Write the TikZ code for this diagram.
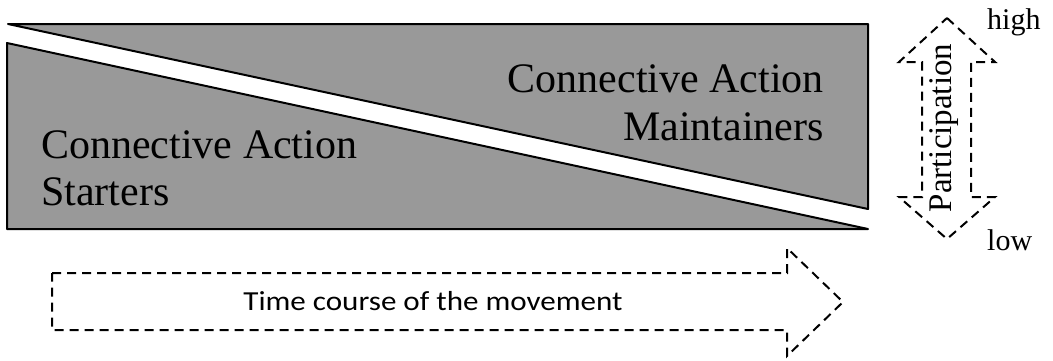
\documentclass[tikz,border=0pt]{standalone}
\usepackage{fontspec}
\setmainfont{Liberation Serif}
\newfontfamily\carlito{Carlito}
\definecolor{bandgray}{RGB}{153,153,153}
\begin{document}
\begin{tikzpicture}[x=1pt,y=-1pt,
  wedge/.style={fill=bandgray,draw=black,line width=2pt,line join=round},
  dasharrow/.style={draw=black,line width=2pt,dash pattern=on 9pt off 6pt,line join=miter},
  bigtext/.style={font=\fontsize{42}{47}\selectfont,inner sep=0pt},
  midtext/.style={font=\fontsize{33}{38}\selectfont,inner sep=0pt},
  smalltext/.style={font=\fontsize{30}{34}\selectfont,inner sep=0pt},
  sanstext/.style={font=\carlito\fontsize{27.5}{31}\selectfont,inner sep=0pt,xscale=1.13}]
\useasboundingbox (0,0) rectangle (1053,360);
% upper wedge (maintainers)
\draw[wedge] (8,24) -- (868,24) -- (868,209) -- cycle;
% lower wedge (starters)
\draw[wedge] (7,43) -- (868,229) -- (7,229) -- cycle;
% texts
\node[bigtext,anchor=base west] (s1) at (41,158) {Connective Action};
\node[bigtext,anchor=base west] (s2) at (41,205) {Starters};
\node[bigtext,anchor=base east] (m1) at (824,92) {Connective Action};
\node[bigtext,anchor=base east] (m2) at (824,140) {Maintainers};
% vertical double arrow
\draw[dasharrow] (947,18) -- (995,62) -- (971,62) -- (971,197) -- (995,197)
  -- (947,239) -- (899,197) -- (922,197) -- (922,62) -- (899,62) -- cycle;
\node[midtext,anchor=base,rotate=90] (part) at (951.5,128) {Participation};
\node[smalltext,anchor=base west] (hi) at (987,29) {high};
\node[smalltext,anchor=base west] (lo) at (987,250) {low};
% horizontal arrow
\draw[dasharrow] (52,273) -- (787,273) -- (787,248) -- (843,302) -- (787,356)
  -- (787,330) -- (52,330) -- cycle;
\node[sanstext,anchor=base] (time) at (433,310) {Time course of the movement};
\end{tikzpicture}
\end{document}
